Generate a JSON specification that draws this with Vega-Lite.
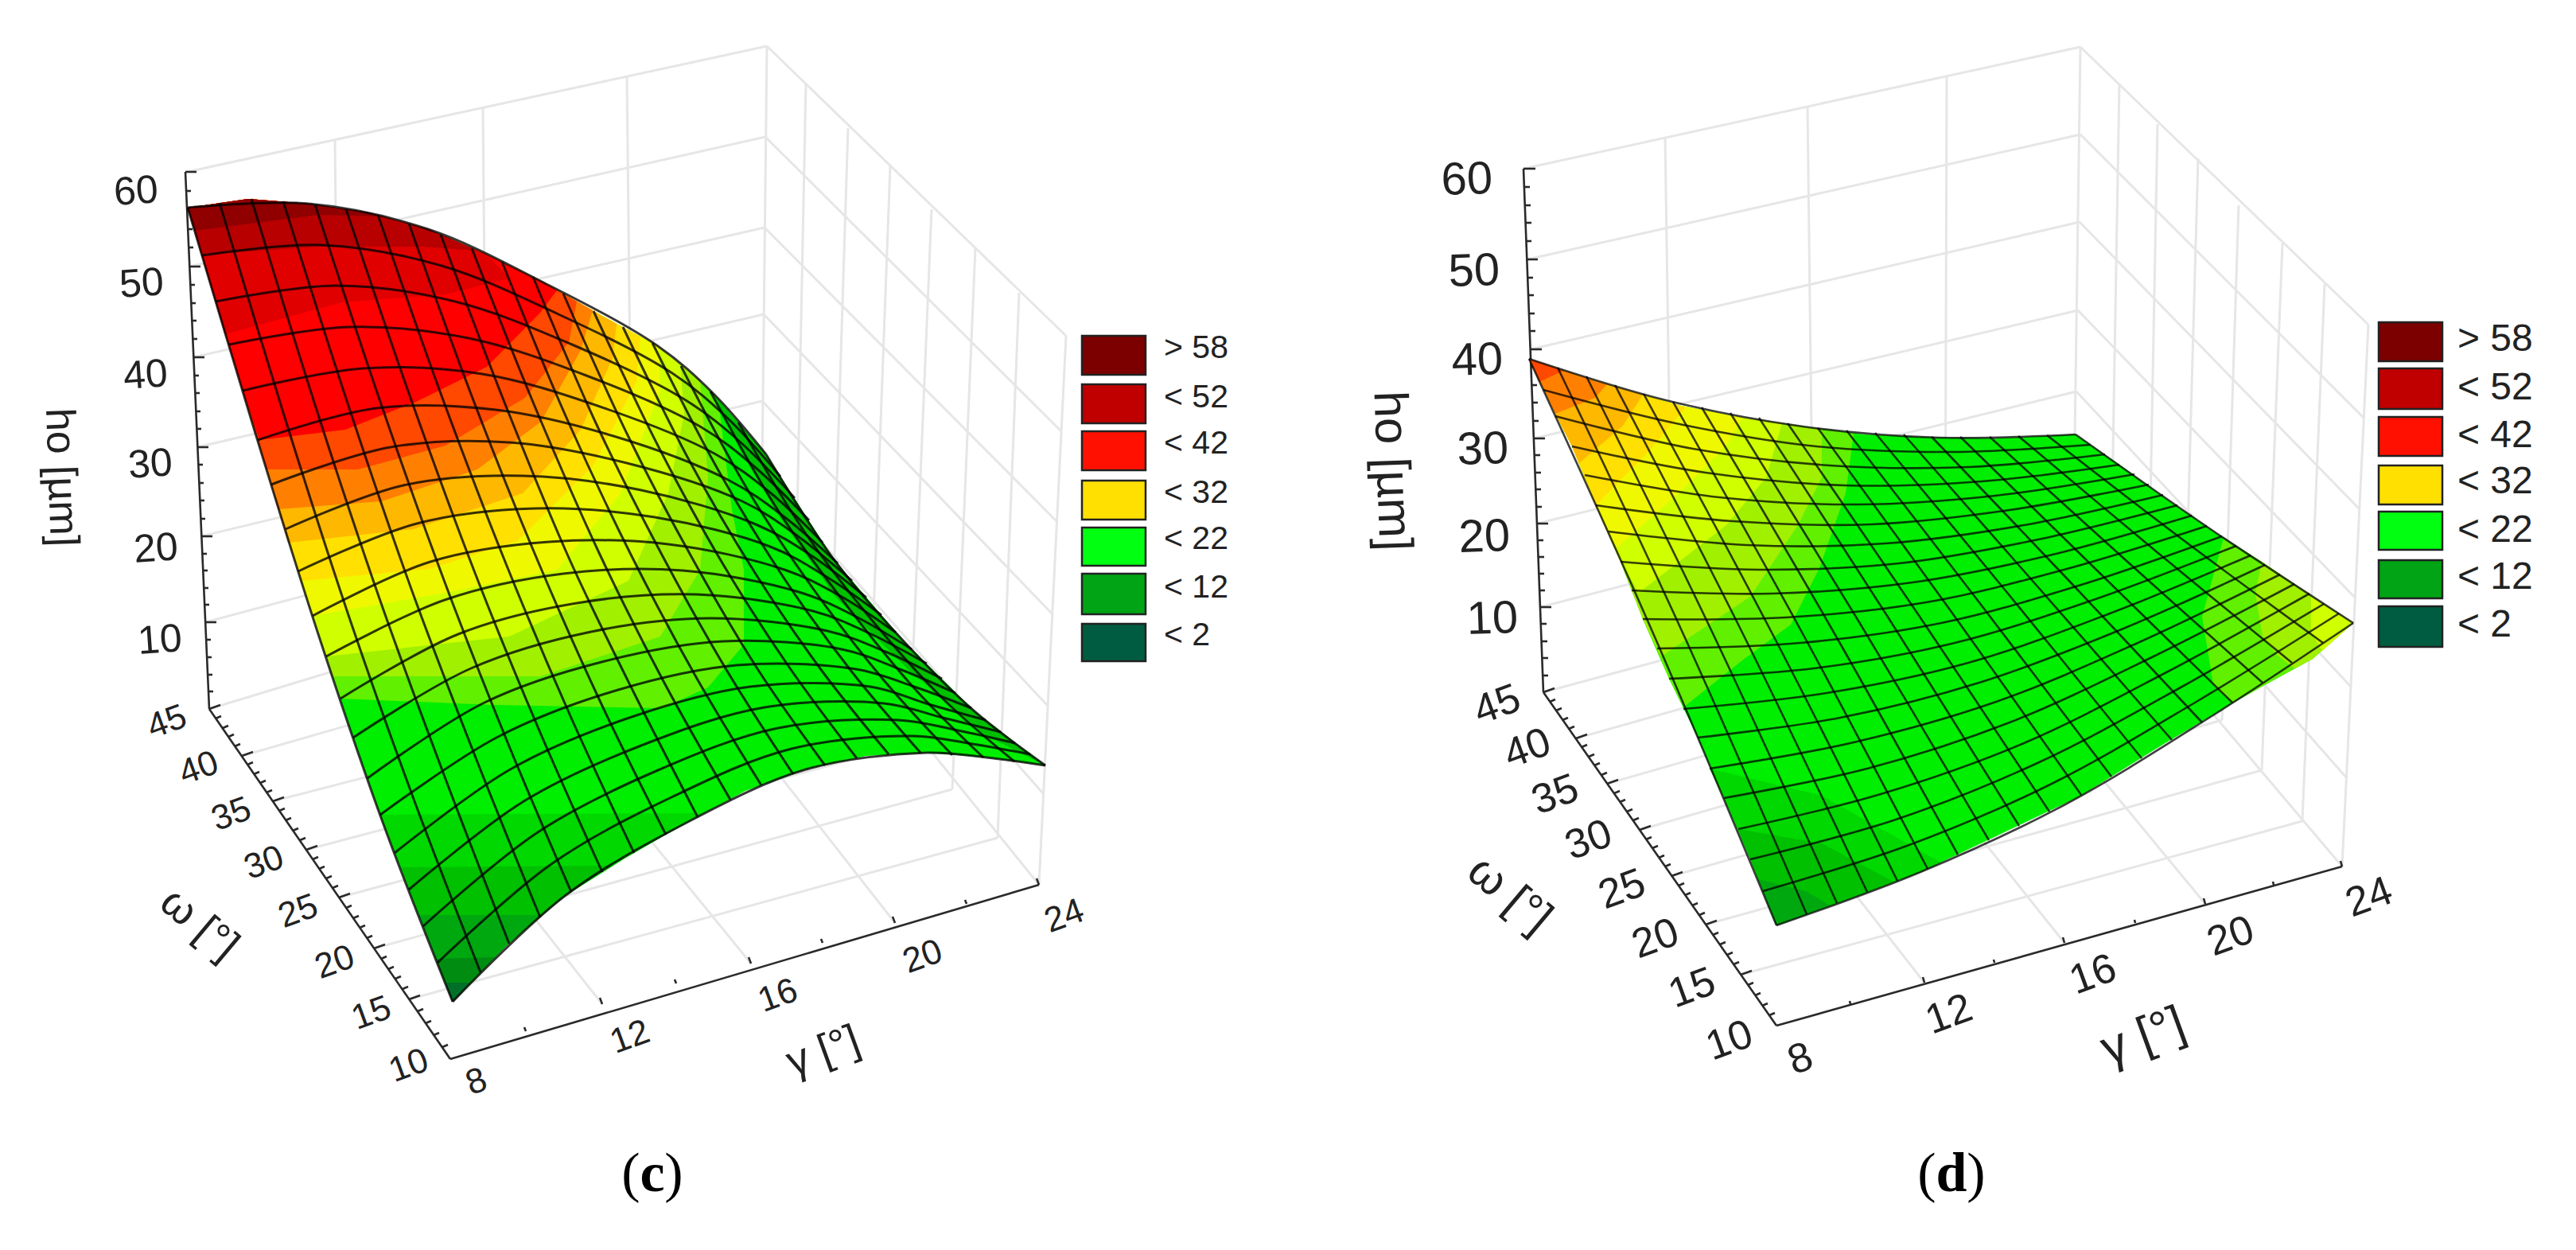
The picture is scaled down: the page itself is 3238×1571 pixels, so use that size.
{"$schema":"https://vega.github.io/schema/vega-lite/v6.json","width":3238,"height":1571,"autosize":{"type":"fit","contains":"padding"},"padding":0,"background":"white","config":{"view":{"stroke":null}},
"datasets":{
"walls":[
{"x":235,"y":216,"x2":964,"y2":58},{"x":238,"y":335,"x2":962,"y2":172},{"x":243,"y":449,"x2":961,"y2":286},{"x":248,"y":562,"x2":960,"y2":395},{"x":253,"y":674,"x2":958,"y2":504},{"x":258,"y":782,"x2":957,"y2":595},{"x":263,"y":891,"x2":957,"y2":680},
{"x":421,"y":176,"x2":428,"y2":845},{"x":607,"y":136,"x2":613,"y2":805},{"x":788,"y":96,"x2":795,"y2":738},{"x":964,"y":58,"x2":957,"y2":680},
{"x":1013,"y":105,"x2":1000,"y2":750},{"x":1066,"y":161,"x2":1045,"y2":825},{"x":1119,"y":208,"x2":1094,"y2":880},{"x":1171,"y":263,"x2":1143,"y2":935},{"x":1226,"y":312,"x2":1197,"y2":992},{"x":1281,"y":368,"x2":1254,"y2":1053},{"x":1340,"y":422,"x2":1306,"y2":1112},
{"x":964,"y":58,"x2":1340,"y2":422},{"x":962,"y":172,"x2":1334,"y2":542},{"x":961,"y":286,"x2":1329,"y2":656},{"x":960,"y":395,"x2":1323,"y2":772},{"x":958,"y":504,"x2":1317,"y2":887},{"x":957,"y":595,"x2":1311,"y2":997},{"x":957,"y":680,"x2":1306,"y2":1112},
{"x":514,"y":1256,"x2":1254,"y2":1053},{"x":470,"y":1192,"x2":1197,"y2":992},{"x":426,"y":1128,"x2":1143,"y2":935},{"x":385,"y":1068,"x2":1094,"y2":880},{"x":343,"y":1007,"x2":1045,"y2":825},{"x":304,"y":950,"x2":1000,"y2":750},
{"x":757,"y":1262,"x2":428,"y2":845},{"x":944,"y":1211,"x2":613,"y2":805},{"x":1125,"y":1160,"x2":795,"y2":738},
{"x":1915,"y":212,"x2":2615,"y2":59},{"x":1920,"y":326,"x2":2615,"y2":169},{"x":1924,"y":439,"x2":2614,"y2":279},{"x":1928,"y":551,"x2":2612,"y2":390},{"x":1932,"y":658,"x2":2610,"y2":492},{"x":1936,"y":763,"x2":2608,"y2":590},{"x":1940,"y":870,"x2":2606,"y2":690},
{"x":2093,"y":173,"x2":2103,"y2":832},{"x":2272,"y":134,"x2":2280,"y2":790},{"x":2447,"y":94,"x2":2445,"y2":740},{"x":2615,"y":59,"x2":2606,"y2":690},
{"x":2664,"y":105,"x2":2653,"y2":738},{"x":2712,"y":156,"x2":2700,"y2":790},{"x":2763,"y":199,"x2":2745,"y2":845},{"x":2814,"y":258,"x2":2793,"y2":905},{"x":2869,"y":306,"x2":2843,"y2":968},{"x":2922,"y":357,"x2":2894,"y2":1032},{"x":2977,"y":408,"x2":2944,"y2":1089},
{"x":2615,"y":59,"x2":2977,"y2":408},{"x":2615,"y":169,"x2":2971,"y2":525},{"x":2614,"y":279,"x2":2966,"y2":640},{"x":2612,"y":390,"x2":2961,"y2":752},{"x":2610,"y":492,"x2":2955,"y2":863},{"x":2608,"y":590,"x2":2950,"y2":978},{"x":2606,"y":690,"x2":2944,"y2":1089},
{"x":2188,"y":1225,"x2":2894,"y2":1032},{"x":2144,"y":1162,"x2":2843,"y2":968},{"x":2101,"y":1101,"x2":2793,"y2":905},{"x":2061,"y":1043,"x2":2745,"y2":845},{"x":2020,"y":985,"x2":2700,"y2":790},{"x":1981,"y":928,"x2":2653,"y2":738},
{"x":2419,"y":1235,"x2":2103,"y2":832},{"x":2595,"y":1185,"x2":2280,"y2":790},{"x":2772,"y":1136,"x2":2445,"y2":740}
],
"axes":[
{"x":233,"y":216,"x2":263,"y2":891},{"x":263,"y":891,"x2":566,"y2":1331},{"x":566,"y":1331,"x2":1306,"y2":1112},
{"x":233,"y":216,"x2":247,"y2":216},{"x":238,"y":335,"x2":252,"y2":335},{"x":243,"y":449,"x2":257,"y2":449},{"x":248,"y":562,"x2":262,"y2":562},{"x":253,"y":674,"x2":267,"y2":674},{"x":258,"y":782,"x2":272,"y2":782},
{"x":234,"y":240,"x2":240,"y2":240},{"x":235,"y":264,"x2":241,"y2":264},{"x":236,"y":288,"x2":242,"y2":288},{"x":237,"y":311,"x2":243,"y2":311},{"x":239,"y":358,"x2":245,"y2":358},{"x":240,"y":381,"x2":246,"y2":381},{"x":241,"y":403,"x2":247,"y2":403},{"x":242,"y":426,"x2":248,"y2":426},{"x":244,"y":472,"x2":250,"y2":472},{"x":245,"y":494,"x2":251,"y2":494},{"x":246,"y":517,"x2":252,"y2":517},{"x":247,"y":539,"x2":253,"y2":539},{"x":249,"y":584,"x2":255,"y2":584},{"x":250,"y":607,"x2":256,"y2":607},{"x":251,"y":629,"x2":257,"y2":629},{"x":252,"y":652,"x2":258,"y2":652},{"x":254,"y":696,"x2":260,"y2":696},{"x":255,"y":717,"x2":261,"y2":717},{"x":256,"y":739,"x2":262,"y2":739},{"x":257,"y":760,"x2":263,"y2":760},{"x":259,"y":804,"x2":265,"y2":804},{"x":260,"y":826,"x2":266,"y2":826},{"x":261,"y":848,"x2":267,"y2":848},{"x":262,"y":869,"x2":268,"y2":869},
{"x":263,"y":891,"x2":277,"y2":886},{"x":304,"y":950,"x2":318,"y2":945},{"x":343,"y":1007,"x2":357,"y2":1002},{"x":385,"y":1068,"x2":399,"y2":1063},{"x":426,"y":1128,"x2":440,"y2":1123},{"x":470,"y":1192,"x2":484,"y2":1187},{"x":514,"y":1256,"x2":528,"y2":1251},
{"x":271,"y":903,"x2":278,"y2":900},{"x":280,"y":915,"x2":287,"y2":912},{"x":287,"y":926,"x2":294,"y2":923},{"x":295,"y":938,"x2":302,"y2":935},{"x":311,"y":961,"x2":318,"y2":958},{"x":319,"y":973,"x2":326,"y2":970},{"x":327,"y":984,"x2":334,"y2":981},{"x":335,"y":996,"x2":342,"y2":993},{"x":351,"y":1019,"x2":358,"y2":1016},{"x":359,"y":1031,"x2":366,"y2":1028},{"x":368,"y":1044,"x2":375,"y2":1041},{"x":377,"y":1056,"x2":384,"y2":1053},{"x":393,"y":1080,"x2":400,"y2":1077},{"x":401,"y":1092,"x2":408,"y2":1089},{"x":410,"y":1104,"x2":417,"y2":1101},{"x":418,"y":1116,"x2":425,"y2":1113},{"x":435,"y":1141,"x2":442,"y2":1138},{"x":444,"y":1154,"x2":451,"y2":1151},{"x":452,"y":1166,"x2":459,"y2":1163},{"x":461,"y":1179,"x2":468,"y2":1176},{"x":479,"y":1205,"x2":486,"y2":1202},{"x":488,"y":1218,"x2":495,"y2":1215},{"x":497,"y":1230,"x2":504,"y2":1227},{"x":506,"y":1243,"x2":513,"y2":1240},{"x":525,"y":1271,"x2":532,"y2":1268},{"x":535,"y":1286,"x2":542,"y2":1283},{"x":545,"y":1301,"x2":552,"y2":1298},{"x":556,"y":1316,"x2":563,"y2":1313},
{"x":757,"y":1262,"x2":754,"y2":1254},{"x":944,"y":1211,"x2":941,"y2":1203},{"x":1125,"y":1160,"x2":1122,"y2":1152},{"x":1306,"y":1112,"x2":1303,"y2":1104},{"x":661,"y":1296,"x2":659,"y2":1291},{"x":850,"y":1236,"x2":848,"y2":1231},{"x":1034,"y":1185,"x2":1032,"y2":1180},{"x":1215,"y":1136,"x2":1213,"y2":1131},
{"x":1915,"y":212,"x2":1930,"y2":212},{"x":1919,"y":326,"x2":1933,"y2":326},{"x":1924,"y":439,"x2":1938,"y2":439},{"x":1928,"y":551,"x2":1942,"y2":551},{"x":1932,"y":658,"x2":1946,"y2":658},{"x":1936,"y":763,"x2":1950,"y2":763},
{"x":1915,"y":212,"x2":1940,"y2":870},{"x":1940,"y":870,"x2":2233,"y2":1289},{"x":2233,"y":1289,"x2":2944,"y2":1089},
{"x":1916,"y":235,"x2":1923,"y2":235},{"x":1917,"y":258,"x2":1924,"y2":258},{"x":1918,"y":280,"x2":1925,"y2":280},{"x":1918,"y":303,"x2":1925,"y2":303},{"x":1920,"y":349,"x2":1927,"y2":349},{"x":1921,"y":371,"x2":1928,"y2":371},{"x":1922,"y":394,"x2":1929,"y2":394},{"x":1923,"y":416,"x2":1930,"y2":416},{"x":1925,"y":461,"x2":1932,"y2":461},{"x":1925,"y":484,"x2":1932,"y2":484},{"x":1926,"y":506,"x2":1933,"y2":506},{"x":1927,"y":529,"x2":1934,"y2":529},{"x":1929,"y":572,"x2":1936,"y2":572},{"x":1930,"y":594,"x2":1937,"y2":594},{"x":1930,"y":615,"x2":1937,"y2":615},{"x":1931,"y":637,"x2":1938,"y2":637},{"x":1933,"y":679,"x2":1940,"y2":679},{"x":1934,"y":700,"x2":1941,"y2":700},{"x":1934,"y":721,"x2":1941,"y2":721},{"x":1935,"y":742,"x2":1942,"y2":742},{"x":1937,"y":784,"x2":1944,"y2":784},{"x":1938,"y":806,"x2":1945,"y2":806},{"x":1939,"y":827,"x2":1946,"y2":827},{"x":1939,"y":849,"x2":1946,"y2":849},
{"x":1940,"y":870,"x2":1954,"y2":865},{"x":1981,"y":928,"x2":1995,"y2":923},{"x":2020,"y":985,"x2":2034,"y2":980},{"x":2061,"y":1043,"x2":2075,"y2":1038},{"x":2101,"y":1101,"x2":2115,"y2":1096},{"x":2144,"y":1162,"x2":2158,"y2":1157},{"x":2188,"y":1225,"x2":2202,"y2":1220},
{"x":1948,"y":882,"x2":1955,"y2":879},{"x":1956,"y":893,"x2":1963,"y2":890},{"x":1964,"y":905,"x2":1971,"y2":902},{"x":1972,"y":916,"x2":1979,"y2":913},{"x":1988,"y":939,"x2":1995,"y2":936},{"x":1997,"y":951,"x2":2004,"y2":948},{"x":2004,"y":962,"x2":2011,"y2":959},{"x":2013,"y":974,"x2":2020,"y2":971},{"x":2029,"y":997,"x2":2036,"y2":994},{"x":2036,"y":1008,"x2":2043,"y2":1005},{"x":2045,"y":1020,"x2":2052,"y2":1017},{"x":2053,"y":1031,"x2":2060,"y2":1028},{"x":2069,"y":1055,"x2":2076,"y2":1052},{"x":2077,"y":1066,"x2":2084,"y2":1063},{"x":2085,"y":1078,"x2":2092,"y2":1075},{"x":2093,"y":1089,"x2":2100,"y2":1086},{"x":2110,"y":1113,"x2":2117,"y2":1110},{"x":2118,"y":1125,"x2":2125,"y2":1122},{"x":2127,"y":1138,"x2":2134,"y2":1135},{"x":2136,"y":1150,"x2":2143,"y2":1147},{"x":2153,"y":1175,"x2":2160,"y2":1172},{"x":2162,"y":1187,"x2":2169,"y2":1184},{"x":2171,"y":1200,"x2":2178,"y2":1197},{"x":2179,"y":1212,"x2":2186,"y2":1209},{"x":2197,"y":1238,"x2":2204,"y2":1235},{"x":2206,"y":1251,"x2":2213,"y2":1248},{"x":2215,"y":1264,"x2":2222,"y2":1261},{"x":2224,"y":1276,"x2":2231,"y2":1273},
{"x":2419,"y":1235,"x2":2417,"y2":1228},{"x":2595,"y":1185,"x2":2593,"y2":1178},{"x":2772,"y":1136,"x2":2770,"y2":1129},{"x":2944,"y":1089,"x2":2942,"y2":1082},{"x":2326,"y":1262,"x2":2325,"y2":1258},{"x":2507,"y":1210,"x2":2506,"y2":1206},{"x":2684,"y":1160,"x2":2683,"y2":1156},{"x":2858,"y":1112,"x2":2857,"y2":1108}
],
"bands":[
{"b":"c00","k":"z20","i":0,"x":236,"y":261},{"b":"c00","k":"z20","i":1,"x":312,"y":250},{"b":"c00","k":"z20","i":2,"x":388,"y":256},{"b":"c00","k":"z20","i":3,"x":463,"y":267},{"b":"c00","k":"z20","i":4,"x":538,"y":288},{"b":"c00","k":"z20","i":5,"x":612,"y":320},{"b":"c00","k":"z20","i":6,"x":685,"y":356},{"b":"c00","k":"z20","i":7,"x":757,"y":397},{"b":"c00","k":"z20","i":8,"x":827,"y":435},{"b":"c00","k":"z20","i":9,"x":897,"y":495},{"b":"c00","k":"z20","i":10,"x":963,"y":571},{"b":"c00","k":"z20","i":11,"x":1048,"y":703},{"b":"c00","k":"z20","i":12,"x":1136,"y":806},{"b":"c00","k":"z20","i":13,"x":1225,"y":894},{"b":"c00","k":"z20","i":14,"x":1314,"y":962},{"b":"c00","k":"z20","i":15,"x":1240,"y":952},{"b":"c00","k":"z20","i":16,"x":1165,"y":946},{"b":"c00","k":"z20","i":17,"x":1089,"y":950},{"b":"c00","k":"z20","i":18,"x":1013,"y":967},{"b":"c00","k":"z20","i":19,"x":937,"y":994},{"b":"c00","k":"z20","i":20,"x":861,"y":1035},{"b":"c00","k":"z20","i":21,"x":785,"y":1079},{"b":"c00","k":"z20","i":22,"x":710,"y":1126},{"b":"c00","k":"z20","i":23,"x":636,"y":1189},{"b":"c00","k":"z20","i":24,"x":569,"y":1259},{"b":"c00","k":"z20","i":25,"x":550,"y":1210},{"b":"c00","k":"z20","i":26,"x":514,"y":1118},{"b":"c00","k":"z20","i":27,"x":478,"y":1024},{"b":"c00","k":"z20","i":28,"x":444,"y":927},{"b":"c00","k":"z20","i":29,"x":410,"y":825},{"b":"c00","k":"z20","i":30,"x":375,"y":718},{"b":"c00","k":"z20","i":31,"x":341,"y":609},{"b":"c00","k":"z20","i":32,"x":305,"y":491},{"b":"c00","k":"z20","i":33,"x":271,"y":379},
{"b":"c01","k":"z12","i":0,"x":478,"y":1024},{"b":"c01","k":"z12","i":1,"x":885,"y":1022},{"b":"c01","k":"z12","i":2,"x":861,"y":1035},{"b":"c01","k":"z12","i":3,"x":785,"y":1079},{"b":"c01","k":"z12","i":4,"x":710,"y":1126},{"b":"c01","k":"z12","i":5,"x":636,"y":1189},{"b":"c01","k":"z12","i":6,"x":569,"y":1259},{"b":"c01","k":"z12","i":7,"x":550,"y":1210},{"b":"c01","k":"z12","i":8,"x":514,"y":1118},
{"b":"c02","k":"z8","i":0,"x":505,"y":1090},{"b":"c02","k":"z8","i":1,"x":770,"y":1088},{"b":"c02","k":"z8","i":2,"x":710,"y":1126},{"b":"c02","k":"z8","i":3,"x":636,"y":1189},{"b":"c02","k":"z8","i":4,"x":569,"y":1259},{"b":"c02","k":"z8","i":5,"x":550,"y":1210},{"b":"c02","k":"z8","i":6,"x":514,"y":1118},
{"b":"c03","k":"z6","i":0,"x":527,"y":1150},{"b":"c03","k":"z6","i":1,"x":680,"y":1150},{"b":"c03","k":"z6","i":2,"x":636,"y":1189},{"b":"c03","k":"z6","i":3,"x":569,"y":1259},{"b":"c03","k":"z6","i":4,"x":550,"y":1210},
{"b":"c04","k":"z4","i":0,"x":548,"y":1205},{"b":"c04","k":"z4","i":1,"x":622,"y":1203},{"b":"c04","k":"z4","i":2,"x":569,"y":1259},
{"b":"c05","k":"z2","i":0,"x":560,"y":1235},{"b":"c05","k":"z2","i":1,"x":592,"y":1235},{"b":"c05","k":"z2","i":2,"x":569,"y":1259},
{"b":"c06","k":"z8","i":0,"x":900,"y":500},{"b":"c06","k":"z8","i":1,"x":963,"y":571},{"b":"c06","k":"z8","i":2,"x":1048,"y":703},{"b":"c06","k":"z8","i":3,"x":1136,"y":806},{"b":"c06","k":"z8","i":4,"x":1225,"y":894},{"b":"c06","k":"z8","i":5,"x":1314,"y":962},{"b":"c06","k":"z8","i":6,"x":1240,"y":925},{"b":"c06","k":"z8","i":7,"x":1140,"y":840},{"b":"c06","k":"z8","i":8,"x":1050,"y":750},{"b":"c06","k":"z8","i":9,"x":980,"y":650},{"b":"c06","k":"z8","i":10,"x":930,"y":565},
{"b":"c10","k":"z23","i":0,"x":428,"y":878},{"b":"c10","k":"z23","i":1,"x":620,"y":886},{"b":"c10","k":"z23","i":2,"x":832,"y":890},{"b":"c10","k":"z23","i":3,"x":890,"y":864},{"b":"c10","k":"z23","i":4,"x":935,"y":810},{"b":"c10","k":"z23","i":5,"x":935,"y":716},{"b":"c10","k":"z23","i":6,"x":920,"y":640},{"b":"c10","k":"z23","i":7,"x":905,"y":520},{"b":"c10","k":"z23","i":8,"x":897,"y":495},{"b":"c10","k":"z23","i":9,"x":827,"y":435},{"b":"c10","k":"z23","i":10,"x":757,"y":397},{"b":"c10","k":"z23","i":11,"x":685,"y":356},{"b":"c10","k":"z23","i":12,"x":612,"y":320},{"b":"c10","k":"z23","i":13,"x":538,"y":288},{"b":"c10","k":"z23","i":14,"x":463,"y":267},{"b":"c10","k":"z23","i":15,"x":388,"y":256},{"b":"c10","k":"z23","i":16,"x":312,"y":250},{"b":"c10","k":"z23","i":17,"x":236,"y":261},{"b":"c10","k":"z23","i":18,"x":271,"y":379},{"b":"c10","k":"z23","i":19,"x":305,"y":491},{"b":"c10","k":"z23","i":20,"x":341,"y":609},{"b":"c10","k":"z23","i":21,"x":375,"y":718},{"b":"c10","k":"z23","i":22,"x":410,"y":825},
{"b":"c11","k":"z25","i":0,"x":418,"y":850},{"b":"c11","k":"z25","i":1,"x":680,"y":850},{"b":"c11","k":"z25","i":2,"x":830,"y":800},{"b":"c11","k":"z25","i":3,"x":880,"y":716},{"b":"c11","k":"z25","i":4,"x":890,"y":600},{"b":"c11","k":"z25","i":5,"x":880,"y":478},{"b":"c11","k":"z25","i":6,"x":827,"y":435},{"b":"c11","k":"z25","i":7,"x":757,"y":397},{"b":"c11","k":"z25","i":8,"x":685,"y":356},{"b":"c11","k":"z25","i":9,"x":612,"y":320},{"b":"c11","k":"z25","i":10,"x":538,"y":288},{"b":"c11","k":"z25","i":11,"x":463,"y":267},{"b":"c11","k":"z25","i":12,"x":388,"y":256},{"b":"c11","k":"z25","i":13,"x":312,"y":250},{"b":"c11","k":"z25","i":14,"x":236,"y":261},{"b":"c11","k":"z25","i":15,"x":271,"y":379},{"b":"c11","k":"z25","i":16,"x":305,"y":491},{"b":"c11","k":"z25","i":17,"x":341,"y":609},{"b":"c11","k":"z25","i":18,"x":375,"y":718},{"b":"c11","k":"z25","i":19,"x":410,"y":825},
{"b":"c12","k":"z27","i":0,"x":410,"y":825},{"b":"c12","k":"z27","i":1,"x":640,"y":800},{"b":"c12","k":"z27","i":2,"x":790,"y":730},{"b":"c12","k":"z27","i":3,"x":840,"y":620},{"b":"c12","k":"z27","i":4,"x":860,"y":520},{"b":"c12","k":"z27","i":5,"x":855,"y":459},{"b":"c12","k":"z27","i":6,"x":827,"y":435},{"b":"c12","k":"z27","i":7,"x":757,"y":397},{"b":"c12","k":"z27","i":8,"x":685,"y":356},{"b":"c12","k":"z27","i":9,"x":612,"y":320},{"b":"c12","k":"z27","i":10,"x":538,"y":288},{"b":"c12","k":"z27","i":11,"x":463,"y":267},{"b":"c12","k":"z27","i":12,"x":388,"y":256},{"b":"c12","k":"z27","i":13,"x":312,"y":250},{"b":"c12","k":"z27","i":14,"x":236,"y":261},{"b":"c12","k":"z27","i":15,"x":271,"y":379},{"b":"c12","k":"z27","i":16,"x":305,"y":491},{"b":"c12","k":"z27","i":17,"x":341,"y":609},{"b":"c12","k":"z27","i":18,"x":375,"y":718},
{"b":"c13","k":"z29","i":0,"x":393,"y":774},{"b":"c13","k":"z29","i":1,"x":560,"y":745},{"b":"c13","k":"z29","i":2,"x":700,"y":716},{"b":"c13","k":"z29","i":3,"x":780,"y":620},{"b":"c13","k":"z29","i":4,"x":830,"y":490},{"b":"c13","k":"z29","i":5,"x":827,"y":435},{"b":"c13","k":"z29","i":6,"x":757,"y":397},{"b":"c13","k":"z29","i":7,"x":685,"y":356},{"b":"c13","k":"z29","i":8,"x":612,"y":320},{"b":"c13","k":"z29","i":9,"x":538,"y":288},{"b":"c13","k":"z29","i":10,"x":463,"y":267},{"b":"c13","k":"z29","i":11,"x":388,"y":256},{"b":"c13","k":"z29","i":12,"x":312,"y":250},{"b":"c13","k":"z29","i":13,"x":236,"y":261},{"b":"c13","k":"z29","i":14,"x":271,"y":379},{"b":"c13","k":"z29","i":15,"x":305,"y":491},{"b":"c13","k":"z29","i":16,"x":341,"y":609},{"b":"c13","k":"z29","i":17,"x":375,"y":718},
{"b":"c14","k":"z32","i":0,"x":379,"y":730},{"b":"c14","k":"z32","i":1,"x":540,"y":715},{"b":"c14","k":"z32","i":2,"x":650,"y":680},{"b":"c14","k":"z32","i":3,"x":746,"y":585},{"b":"c14","k":"z32","i":4,"x":800,"y":480},{"b":"c14","k":"z32","i":5,"x":805,"y":423},{"b":"c14","k":"z32","i":6,"x":757,"y":397},{"b":"c14","k":"z32","i":7,"x":685,"y":356},{"b":"c14","k":"z32","i":8,"x":612,"y":320},{"b":"c14","k":"z32","i":9,"x":538,"y":288},{"b":"c14","k":"z32","i":10,"x":463,"y":267},{"b":"c14","k":"z32","i":11,"x":388,"y":256},{"b":"c14","k":"z32","i":12,"x":312,"y":250},{"b":"c14","k":"z32","i":13,"x":236,"y":261},{"b":"c14","k":"z32","i":14,"x":271,"y":379},{"b":"c14","k":"z32","i":15,"x":305,"y":491},{"b":"c14","k":"z32","i":16,"x":341,"y":609},{"b":"c14","k":"z32","i":17,"x":375,"y":718},
{"b":"c15","k":"z35","i":0,"x":362,"y":682},{"b":"c15","k":"z35","i":1,"x":520,"y":665},{"b":"c15","k":"z35","i":2,"x":657,"y":620},{"b":"c15","k":"z35","i":3,"x":730,"y":540},{"b":"c15","k":"z35","i":4,"x":770,"y":450},{"b":"c15","k":"z35","i":5,"x":775,"y":407},{"b":"c15","k":"z35","i":6,"x":757,"y":397},{"b":"c15","k":"z35","i":7,"x":685,"y":356},{"b":"c15","k":"z35","i":8,"x":612,"y":320},{"b":"c15","k":"z35","i":9,"x":538,"y":288},{"b":"c15","k":"z35","i":10,"x":463,"y":267},{"b":"c15","k":"z35","i":11,"x":388,"y":256},{"b":"c15","k":"z35","i":12,"x":312,"y":250},{"b":"c15","k":"z35","i":13,"x":236,"y":261},{"b":"c15","k":"z35","i":14,"x":271,"y":379},{"b":"c15","k":"z35","i":15,"x":305,"y":491},{"b":"c15","k":"z35","i":16,"x":341,"y":609},
{"b":"c16","k":"z38","i":0,"x":350,"y":640},{"b":"c16","k":"z38","i":1,"x":480,"y":630},{"b":"c16","k":"z38","i":2,"x":600,"y":590},{"b":"c16","k":"z38","i":3,"x":680,"y":530},{"b":"c16","k":"z38","i":4,"x":730,"y":440},{"b":"c16","k":"z38","i":5,"x":745,"y":390},{"b":"c16","k":"z38","i":6,"x":685,"y":356},{"b":"c16","k":"z38","i":7,"x":612,"y":320},{"b":"c16","k":"z38","i":8,"x":538,"y":288},{"b":"c16","k":"z38","i":9,"x":463,"y":267},{"b":"c16","k":"z38","i":10,"x":388,"y":256},{"b":"c16","k":"z38","i":11,"x":312,"y":250},{"b":"c16","k":"z38","i":12,"x":236,"y":261},{"b":"c16","k":"z38","i":13,"x":271,"y":379},{"b":"c16","k":"z38","i":14,"x":305,"y":491},{"b":"c16","k":"z38","i":15,"x":341,"y":609},
{"b":"c17","k":"z41","i":0,"x":335,"y":590},{"b":"c17","k":"z41","i":1,"x":450,"y":590},{"b":"c17","k":"z41","i":2,"x":560,"y":560},{"b":"c17","k":"z41","i":3,"x":660,"y":500},{"b":"c17","k":"z41","i":4,"x":715,"y":430},{"b":"c17","k":"z41","i":5,"x":725,"y":379},{"b":"c17","k":"z41","i":6,"x":685,"y":356},{"b":"c17","k":"z41","i":7,"x":612,"y":320},{"b":"c17","k":"z41","i":8,"x":538,"y":288},{"b":"c17","k":"z41","i":9,"x":463,"y":267},{"b":"c17","k":"z41","i":10,"x":388,"y":256},{"b":"c17","k":"z41","i":11,"x":312,"y":250},{"b":"c17","k":"z41","i":12,"x":236,"y":261},{"b":"c17","k":"z41","i":13,"x":271,"y":379},{"b":"c17","k":"z41","i":14,"x":305,"y":491},
{"b":"c18","k":"z44","i":0,"x":326,"y":553},{"b":"c18","k":"z44","i":1,"x":434,"y":540},{"b":"c18","k":"z44","i":2,"x":523,"y":505},{"b":"c18","k":"z44","i":3,"x":612,"y":461},{"b":"c18","k":"z44","i":4,"x":679,"y":393},{"b":"c18","k":"z44","i":5,"x":700,"y":365},{"b":"c18","k":"z44","i":6,"x":685,"y":356},{"b":"c18","k":"z44","i":7,"x":612,"y":320},{"b":"c18","k":"z44","i":8,"x":538,"y":288},{"b":"c18","k":"z44","i":9,"x":463,"y":267},{"b":"c18","k":"z44","i":10,"x":388,"y":256},{"b":"c18","k":"z44","i":11,"x":312,"y":250},{"b":"c18","k":"z44","i":12,"x":236,"y":261},{"b":"c18","k":"z44","i":13,"x":271,"y":379},{"b":"c18","k":"z44","i":14,"x":305,"y":491},
{"b":"c19","k":"z48","i":0,"x":283,"y":420},{"b":"c19","k":"z48","i":1,"x":430,"y":380},{"b":"c19","k":"z48","i":2,"x":560,"y":370},{"b":"c19","k":"z48","i":3,"x":640,"y":350},{"b":"c19","k":"z48","i":4,"x":612,"y":320},{"b":"c19","k":"z48","i":5,"x":538,"y":288},{"b":"c19","k":"z48","i":6,"x":463,"y":267},{"b":"c19","k":"z48","i":7,"x":388,"y":256},{"b":"c19","k":"z48","i":8,"x":312,"y":250},{"b":"c19","k":"z48","i":9,"x":236,"y":261},{"b":"c19","k":"z48","i":10,"x":271,"y":379},
{"b":"c20","k":"z52","i":0,"x":256,"y":320},{"b":"c20","k":"z52","i":1,"x":400,"y":310},{"b":"c20","k":"z52","i":2,"x":530,"y":310},{"b":"c20","k":"z52","i":3,"x":600,"y":315},{"b":"c20","k":"z52","i":4,"x":538,"y":288},{"b":"c20","k":"z52","i":5,"x":463,"y":267},{"b":"c20","k":"z52","i":6,"x":388,"y":256},{"b":"c20","k":"z52","i":7,"x":312,"y":250},{"b":"c20","k":"z52","i":8,"x":236,"y":261},
{"b":"c21","k":"z58","i":0,"x":245,"y":290},{"b":"c21","k":"z58","i":1,"x":400,"y":270},{"b":"c21","k":"z58","i":2,"x":480,"y":272},{"b":"c21","k":"z58","i":3,"x":463,"y":267},{"b":"c21","k":"z58","i":4,"x":388,"y":256},{"b":"c21","k":"z58","i":5,"x":312,"y":250},{"b":"c21","k":"z58","i":6,"x":236,"y":261},
{"b":"d00","k":"z20","i":0,"x":1922,"y":451},{"b":"d00","k":"z20","i":1,"x":2006,"y":479},{"b":"d00","k":"z20","i":2,"x":2113,"y":510},{"b":"d00","k":"z20","i":3,"x":2190,"y":525},{"b":"d00","k":"z20","i":4,"x":2261,"y":535},{"b":"d00","k":"z20","i":5,"x":2343,"y":546},{"b":"d00","k":"z20","i":6,"x":2437,"y":550},{"b":"d00","k":"z20","i":7,"x":2507,"y":551},{"b":"d00","k":"z20","i":8,"x":2609,"y":546},{"b":"d00","k":"z20","i":9,"x":2667,"y":586},{"b":"d00","k":"z20","i":10,"x":2720,"y":625},{"b":"d00","k":"z20","i":11,"x":2783,"y":668},{"b":"d00","k":"z20","i":12,"x":2843,"y":706},{"b":"d00","k":"z20","i":13,"x":2907,"y":750},{"b":"d00","k":"z20","i":14,"x":2958,"y":783},{"b":"d00","k":"z20","i":15,"x":2907,"y":828},{"b":"d00","k":"z20","i":16,"x":2843,"y":863},{"b":"d00","k":"z20","i":17,"x":2806,"y":884},{"b":"d00","k":"z20","i":18,"x":2720,"y":935},{"b":"d00","k":"z20","i":19,"x":2614,"y":1001},{"b":"d00","k":"z20","i":20,"x":2507,"y":1052},{"b":"d00","k":"z20","i":21,"x":2414,"y":1096},{"b":"d00","k":"z20","i":22,"x":2343,"y":1123},{"b":"d00","k":"z20","i":23,"x":2233,"y":1163},{"b":"d00","k":"z20","i":24,"x":2200,"y":1080},{"b":"d00","k":"z20","i":25,"x":2167,"y":1003},{"b":"d00","k":"z20","i":26,"x":2134,"y":927},{"b":"d00","k":"z20","i":27,"x":2098,"y":853},{"b":"d00","k":"z20","i":28,"x":2065,"y":778},{"b":"d00","k":"z20","i":29,"x":2037,"y":706},{"b":"d00","k":"z20","i":30,"x":2006,"y":635},{"b":"d00","k":"z20","i":31,"x":1976,"y":561},{"b":"d00","k":"z20","i":32,"x":1955,"y":520},
{"b":"d01","k":"z12","i":0,"x":2149,"y":966},{"b":"d01","k":"z12","i":1,"x":2290,"y":1000},{"b":"d01","k":"z12","i":2,"x":2440,"y":1084},{"b":"d01","k":"z12","i":3,"x":2414,"y":1096},{"b":"d01","k":"z12","i":4,"x":2343,"y":1123},{"b":"d01","k":"z12","i":5,"x":2233,"y":1163},{"b":"d01","k":"z12","i":6,"x":2200,"y":1080},{"b":"d01","k":"z12","i":7,"x":2167,"y":1003},
{"b":"d02","k":"z8","i":0,"x":2185,"y":1042},{"b":"d02","k":"z8","i":1,"x":2290,"y":1060},{"b":"d02","k":"z8","i":2,"x":2380,"y":1108},{"b":"d02","k":"z8","i":3,"x":2343,"y":1123},{"b":"d02","k":"z8","i":4,"x":2233,"y":1163},{"b":"d02","k":"z8","i":5,"x":2200,"y":1080},
{"b":"d03","k":"z6","i":0,"x":2210,"y":1105},{"b":"d03","k":"z6","i":1,"x":2270,"y":1120},{"b":"d03","k":"z6","i":2,"x":2300,"y":1138},{"b":"d03","k":"z6","i":3,"x":2233,"y":1163},
{"b":"d05","k":"z23","i":0,"x":2795,"y":676},{"b":"d05","k":"z23","i":1,"x":2768,"y":775},{"b":"d05","k":"z23","i":2,"x":2782,"y":860},{"b":"d05","k":"z23","i":3,"x":2806,"y":884},{"b":"d05","k":"z23","i":4,"x":2843,"y":863},{"b":"d05","k":"z23","i":5,"x":2907,"y":828},{"b":"d05","k":"z23","i":6,"x":2958,"y":783},{"b":"d05","k":"z23","i":7,"x":2907,"y":750},{"b":"d05","k":"z23","i":8,"x":2843,"y":706},
{"b":"d06","k":"z25","i":0,"x":2843,"y":706},{"b":"d06","k":"z25","i":1,"x":2835,"y":746},{"b":"d06","k":"z25","i":2,"x":2844,"y":800},{"b":"d06","k":"z25","i":3,"x":2862,"y":823},{"b":"d06","k":"z25","i":4,"x":2884,"y":840},{"b":"d06","k":"z25","i":5,"x":2907,"y":828},{"b":"d06","k":"z25","i":6,"x":2958,"y":783},{"b":"d06","k":"z25","i":7,"x":2907,"y":750},
{"b":"d07","k":"z27","i":0,"x":2905,"y":749},{"b":"d07","k":"z27","i":1,"x":2905,"y":795},{"b":"d07","k":"z27","i":2,"x":2919,"y":818},{"b":"d07","k":"z27","i":3,"x":2958,"y":783},
{"b":"d10","k":"z23","i":0,"x":2116,"y":889},{"b":"d10","k":"z23","i":1,"x":2190,"y":830},{"b":"d10","k":"z23","i":2,"x":2251,"y":785},{"b":"d10","k":"z23","i":3,"x":2287,"y":714},{"b":"d10","k":"z23","i":4,"x":2320,"y":620},{"b":"d10","k":"z23","i":5,"x":2330,"y":545},{"b":"d10","k":"z23","i":6,"x":2261,"y":535},{"b":"d10","k":"z23","i":7,"x":2190,"y":525},{"b":"d10","k":"z23","i":8,"x":2113,"y":510},{"b":"d10","k":"z23","i":9,"x":2006,"y":479},{"b":"d10","k":"z23","i":10,"x":1922,"y":451},{"b":"d10","k":"z23","i":11,"x":1955,"y":520},{"b":"d10","k":"z23","i":12,"x":1976,"y":561},{"b":"d10","k":"z23","i":13,"x":2006,"y":635},{"b":"d10","k":"z23","i":14,"x":2037,"y":706},{"b":"d10","k":"z23","i":15,"x":2065,"y":778},{"b":"d10","k":"z23","i":16,"x":2098,"y":853},
{"b":"d11","k":"z25","i":0,"x":2088,"y":825},{"b":"d11","k":"z25","i":1,"x":2200,"y":750},{"b":"d11","k":"z25","i":2,"x":2260,"y":660},{"b":"d11","k":"z25","i":3,"x":2290,"y":600},{"b":"d11","k":"z25","i":4,"x":2290,"y":539},{"b":"d11","k":"z25","i":5,"x":2261,"y":535},{"b":"d11","k":"z25","i":6,"x":2190,"y":525},{"b":"d11","k":"z25","i":7,"x":2113,"y":510},{"b":"d11","k":"z25","i":8,"x":2006,"y":479},{"b":"d11","k":"z25","i":9,"x":1922,"y":451},{"b":"d11","k":"z25","i":10,"x":1955,"y":520},{"b":"d11","k":"z25","i":11,"x":1976,"y":561},{"b":"d11","k":"z25","i":12,"x":2006,"y":635},{"b":"d11","k":"z25","i":13,"x":2037,"y":706},{"b":"d11","k":"z25","i":14,"x":2065,"y":778},
{"b":"d12","k":"z27","i":0,"x":2060,"y":745},{"b":"d12","k":"z27","i":1,"x":2170,"y":660},{"b":"d12","k":"z27","i":2,"x":2220,"y":600},{"b":"d12","k":"z27","i":3,"x":2240,"y":532},{"b":"d12","k":"z27","i":4,"x":2190,"y":525},{"b":"d12","k":"z27","i":5,"x":2113,"y":510},{"b":"d12","k":"z27","i":6,"x":2006,"y":479},{"b":"d12","k":"z27","i":7,"x":1922,"y":451},{"b":"d12","k":"z27","i":8,"x":1955,"y":520},{"b":"d12","k":"z27","i":9,"x":1976,"y":561},{"b":"d12","k":"z27","i":10,"x":2006,"y":635},{"b":"d12","k":"z27","i":11,"x":2037,"y":706},
{"b":"d13","k":"z29","i":0,"x":2030,"y":690},{"b":"d13","k":"z29","i":1,"x":2110,"y":620},{"b":"d13","k":"z29","i":2,"x":2170,"y":560},{"b":"d13","k":"z29","i":3,"x":2190,"y":525},{"b":"d13","k":"z29","i":4,"x":2113,"y":510},{"b":"d13","k":"z29","i":5,"x":2006,"y":479},{"b":"d13","k":"z29","i":6,"x":1922,"y":451},{"b":"d13","k":"z29","i":7,"x":1955,"y":520},{"b":"d13","k":"z29","i":8,"x":1976,"y":561},{"b":"d13","k":"z29","i":9,"x":2006,"y":635},
{"b":"d14","k":"z32","i":0,"x":2006,"y":635},{"b":"d14","k":"z32","i":1,"x":2070,"y":570},{"b":"d14","k":"z32","i":2,"x":2119,"y":512},{"b":"d14","k":"z32","i":3,"x":2006,"y":479},{"b":"d14","k":"z32","i":4,"x":1922,"y":451},{"b":"d14","k":"z32","i":5,"x":1955,"y":520},{"b":"d14","k":"z32","i":6,"x":1976,"y":561},
{"b":"d15","k":"z35","i":0,"x":1985,"y":582},{"b":"d15","k":"z35","i":1,"x":2040,"y":535},{"b":"d15","k":"z35","i":2,"x":2065,"y":496},{"b":"d15","k":"z35","i":3,"x":2006,"y":479},{"b":"d15","k":"z35","i":4,"x":1922,"y":451},{"b":"d15","k":"z35","i":5,"x":1955,"y":520},{"b":"d15","k":"z35","i":6,"x":1976,"y":561},
{"b":"d16","k":"z38","i":0,"x":1955,"y":520},{"b":"d16","k":"z38","i":1,"x":2005,"y":500},{"b":"d16","k":"z38","i":2,"x":2020,"y":483},{"b":"d16","k":"z38","i":3,"x":2006,"y":479},{"b":"d16","k":"z38","i":4,"x":1922,"y":451},
{"b":"d17","k":"z41","i":0,"x":1935,"y":480},{"b":"d17","k":"z41","i":1,"x":1965,"y":466},{"b":"d17","k":"z41","i":2,"x":1922,"y":451}
],
"gammaC":[
{"l":"g0","v":0,"x":236,"y":261},{"l":"g0","v":1,"x":319,"y":538},{"l":"g0","v":2,"x":401,"y":800},{"l":"g0","v":3,"x":482,"y":1036},{"l":"g0","v":4,"x":569,"y":1259},
{"l":"g1","v":0,"x":276,"y":255},{"l":"g1","v":1,"x":358,"y":525},{"l":"g1","v":2,"x":440,"y":779},{"l":"g1","v":3,"x":521,"y":1007},{"l":"g1","v":4,"x":604,"y":1222},
{"l":"g2","v":0,"x":316,"y":250},{"l":"g2","v":1,"x":397,"y":512},{"l":"g2","v":2,"x":479,"y":758},{"l":"g2","v":3,"x":560,"y":979},{"l":"g2","v":4,"x":640,"y":1186},
{"l":"g3","v":0,"x":356,"y":253},{"l":"g3","v":1,"x":437,"y":507},{"l":"g3","v":2,"x":518,"y":743},{"l":"g3","v":3,"x":599,"y":955},{"l":"g3","v":4,"x":679,"y":1153},
{"l":"g4","v":0,"x":396,"y":257},{"l":"g4","v":1,"x":477,"y":502},{"l":"g4","v":2,"x":558,"y":729},{"l":"g4","v":3,"x":638,"y":933},{"l":"g4","v":4,"x":718,"y":1121},
{"l":"g5","v":0,"x":435,"y":263},{"l":"g5","v":1,"x":516,"y":500},{"l":"g5","v":2,"x":597,"y":720},{"l":"g5","v":3,"x":677,"y":916},{"l":"g5","v":4,"x":757,"y":1096},
{"l":"g6","v":0,"x":475,"y":270},{"l":"g6","v":1,"x":556,"y":500},{"l":"g6","v":2,"x":637,"y":711},{"l":"g6","v":3,"x":717,"y":900},{"l":"g6","v":4,"x":797,"y":1072},
{"l":"g7","v":0,"x":514,"y":281},{"l":"g7","v":1,"x":595,"y":503},{"l":"g7","v":2,"x":676,"y":705},{"l":"g7","v":3,"x":756,"y":885},{"l":"g7","v":4,"x":837,"y":1049},
{"l":"g8","v":0,"x":554,"y":295},{"l":"g8","v":1,"x":635,"y":508},{"l":"g8","v":2,"x":715,"y":701},{"l":"g8","v":3,"x":797,"y":871},{"l":"g8","v":4,"x":877,"y":1027},
{"l":"g9","v":0,"x":593,"y":312},{"l":"g9","v":1,"x":674,"y":515},{"l":"g9","v":2,"x":755,"y":699},{"l":"g9","v":3,"x":836,"y":860},{"l":"g9","v":4,"x":918,"y":1005},
{"l":"g10","v":0,"x":631,"y":329},{"l":"g10","v":1,"x":712,"y":525},{"l":"g10","v":2,"x":794,"y":699},{"l":"g10","v":3,"x":875,"y":851},{"l":"g10","v":4,"x":957,"y":987},
{"l":"g11","v":0,"x":670,"y":348},{"l":"g11","v":1,"x":751,"y":536},{"l":"g11","v":2,"x":834,"y":701},{"l":"g11","v":3,"x":915,"y":845},{"l":"g11","v":4,"x":997,"y":973},
{"l":"g12","v":0,"x":708,"y":369},{"l":"g12","v":1,"x":790,"y":549},{"l":"g12","v":2,"x":872,"y":705},{"l":"g12","v":3,"x":953,"y":842},{"l":"g12","v":4,"x":1037,"y":962},
{"l":"g13","v":0,"x":746,"y":391},{"l":"g13","v":1,"x":829,"y":564},{"l":"g13","v":2,"x":910,"y":711},{"l":"g13","v":3,"x":993,"y":840},{"l":"g13","v":4,"x":1077,"y":953},
{"l":"g14","v":0,"x":783,"y":411},{"l":"g14","v":1,"x":866,"y":578},{"l":"g14","v":2,"x":949,"y":720},{"l":"g14","v":3,"x":1033,"y":843},{"l":"g14","v":4,"x":1117,"y":948},
{"l":"g15","v":0,"x":820,"y":431},{"l":"g15","v":1,"x":904,"y":593},{"l":"g15","v":2,"x":987,"y":729},{"l":"g15","v":3,"x":1072,"y":846},{"l":"g15","v":4,"x":1157,"y":946},
{"l":"g16","v":0,"x":856,"y":460},{"l":"g16","v":1,"x":940,"y":616},{"l":"g16","v":2,"x":1025,"y":744},{"l":"g16","v":3,"x":1111,"y":855},{"l":"g16","v":4,"x":1197,"y":949},
{"l":"g17","v":0,"x":893,"y":492},{"l":"g17","v":1,"x":977,"y":640},{"l":"g17","v":2,"x":1065,"y":762},{"l":"g17","v":3,"x":1151,"y":867},{"l":"g17","v":4,"x":1236,"y":952},
{"l":"g18","v":0,"x":928,"y":531},{"l":"g18","v":1,"x":1013,"y":671},{"l":"g18","v":2,"x":1099,"y":783},{"l":"g18","v":3,"x":1187,"y":880},{"l":"g18","v":4,"x":1275,"y":957},
{"l":"g19","v":0,"x":963,"y":571},{"l":"g19","v":1,"x":1048,"y":703},{"l":"g19","v":2,"x":1136,"y":806},{"l":"g19","v":3,"x":1225,"y":894},{"l":"g19","v":4,"x":1314,"y":962}
],
"omegaC":[
{"l":"w0","v":0,"x":236,"y":261},{"l":"w0","v":1,"x":388,"y":256},{"l":"w0","v":2,"x":538,"y":288},{"l":"w0","v":3,"x":685,"y":356},{"l":"w0","v":4,"x":827,"y":435},{"l":"w0","v":5,"x":897,"y":495},{"l":"w0","v":6,"x":963,"y":571},
{"l":"w1","v":0,"x":254,"y":321},{"l":"w1","v":1,"x":405,"y":308},{"l":"w1","v":2,"x":555,"y":334},{"l":"w1","v":3,"x":702,"y":395},{"l":"w1","v":4,"x":845,"y":469},{"l":"w1","v":5,"x":915,"y":526},{"l":"w1","v":6,"x":981,"y":599},
{"l":"w2","v":0,"x":271,"y":379},{"l":"w2","v":1,"x":422,"y":359},{"l":"w2","v":2,"x":572,"y":379},{"l":"w2","v":3,"x":719,"y":433},{"l":"w2","v":4,"x":862,"y":503},{"l":"w2","v":5,"x":932,"y":557},{"l":"w2","v":6,"x":999,"y":626},
{"l":"w3","v":0,"x":288,"y":433},{"l":"w3","v":1,"x":439,"y":411},{"l":"w3","v":2,"x":589,"y":425},{"l":"w3","v":3,"x":737,"y":472},{"l":"w3","v":4,"x":880,"y":536},{"l":"w3","v":5,"x":950,"y":588},{"l":"w3","v":6,"x":1017,"y":654},
{"l":"w4","v":0,"x":305,"y":491},{"l":"w4","v":1,"x":456,"y":463},{"l":"w4","v":2,"x":606,"y":470},{"l":"w4","v":3,"x":754,"y":511},{"l":"w4","v":4,"x":898,"y":570},{"l":"w4","v":5,"x":968,"y":619},{"l":"w4","v":6,"x":1034,"y":682},
{"l":"w5","v":0,"x":324,"y":553},{"l":"w5","v":1,"x":473,"y":513},{"l":"w5","v":2,"x":623,"y":515},{"l":"w5","v":3,"x":771,"y":548},{"l":"w5","v":4,"x":915,"y":603},{"l":"w5","v":5,"x":985,"y":649},{"l":"w5","v":6,"x":1053,"y":708},
{"l":"w6","v":0,"x":341,"y":609},{"l":"w6","v":1,"x":491,"y":562},{"l":"w6","v":2,"x":640,"y":556},{"l":"w6","v":3,"x":788,"y":582},{"l":"w6","v":4,"x":933,"y":630},{"l":"w6","v":5,"x":1003,"y":674},{"l":"w6","v":6,"x":1071,"y":730},
{"l":"w7","v":0,"x":359,"y":665},{"l":"w7","v":1,"x":507,"y":610},{"l":"w7","v":2,"x":657,"y":598},{"l":"w7","v":3,"x":806,"y":616},{"l":"w7","v":4,"x":950,"y":659},{"l":"w7","v":5,"x":1021,"y":699},{"l":"w7","v":6,"x":1089,"y":751},
{"l":"w8","v":0,"x":375,"y":718},{"l":"w8","v":1,"x":524,"y":658},{"l":"w8","v":2,"x":673,"y":639},{"l":"w8","v":3,"x":823,"y":650},{"l":"w8","v":4,"x":968,"y":687},{"l":"w8","v":5,"x":1039,"y":725},{"l":"w8","v":6,"x":1108,"y":773},
{"l":"w9","v":0,"x":393,"y":774},{"l":"w9","v":1,"x":541,"y":706},{"l":"w9","v":2,"x":690,"y":681},{"l":"w9","v":3,"x":840,"y":684},{"l":"w9","v":4,"x":986,"y":716},{"l":"w9","v":5,"x":1058,"y":750},{"l":"w9","v":6,"x":1126,"y":795},
{"l":"w10","v":0,"x":410,"y":825},{"l":"w10","v":1,"x":559,"y":754},{"l":"w10","v":2,"x":708,"y":721},{"l":"w10","v":3,"x":858,"y":717},{"l":"w10","v":4,"x":1004,"y":744},{"l":"w10","v":5,"x":1076,"y":775},{"l":"w10","v":6,"x":1146,"y":816},
{"l":"w11","v":0,"x":428,"y":878},{"l":"w11","v":1,"x":576,"y":797},{"l":"w11","v":2,"x":725,"y":758},{"l":"w11","v":3,"x":875,"y":747},{"l":"w11","v":4,"x":1022,"y":768},{"l":"w11","v":5,"x":1095,"y":797},{"l":"w11","v":6,"x":1165,"y":834},
{"l":"w12","v":0,"x":444,"y":927},{"l":"w12","v":1,"x":592,"y":840},{"l":"w12","v":2,"x":743,"y":794},{"l":"w12","v":3,"x":892,"y":777},{"l":"w12","v":4,"x":1040,"y":793},{"l":"w12","v":5,"x":1113,"y":819},{"l":"w12","v":6,"x":1184,"y":853},
{"l":"w13","v":0,"x":462,"y":978},{"l":"w13","v":1,"x":609,"y":883},{"l":"w13","v":2,"x":760,"y":831},{"l":"w13","v":3,"x":909,"y":806},{"l":"w13","v":4,"x":1058,"y":816},{"l":"w13","v":5,"x":1131,"y":841},{"l":"w13","v":6,"x":1201,"y":871},
{"l":"w14","v":0,"x":478,"y":1024},{"l":"w14","v":1,"x":626,"y":926},{"l":"w14","v":2,"x":777,"y":867},{"l":"w14","v":3,"x":926,"y":836},{"l":"w14","v":4,"x":1076,"y":841},{"l":"w14","v":5,"x":1149,"y":863},{"l":"w14","v":6,"x":1221,"y":890},
{"l":"w15","v":0,"x":496,"y":1072},{"l":"w15","v":1,"x":643,"y":966},{"l":"w15","v":2,"x":794,"y":901},{"l":"w15","v":3,"x":943,"y":863},{"l":"w15","v":4,"x":1094,"y":863},{"l":"w15","v":5,"x":1167,"y":885},{"l":"w15","v":6,"x":1239,"y":905},
{"l":"w16","v":0,"x":514,"y":1118},{"l":"w16","v":1,"x":660,"y":1006},{"l":"w16","v":2,"x":811,"y":935},{"l":"w16","v":3,"x":961,"y":889},{"l":"w16","v":4,"x":1111,"y":884},{"l":"w16","v":5,"x":1185,"y":902},{"l":"w16","v":6,"x":1258,"y":920},
{"l":"w17","v":0,"x":532,"y":1164},{"l":"w17","v":1,"x":676,"y":1046},{"l":"w17","v":2,"x":827,"y":968},{"l":"w17","v":3,"x":978,"y":915},{"l":"w17","v":4,"x":1129,"y":905},{"l":"w17","v":5,"x":1204,"y":918},{"l":"w17","v":6,"x":1276,"y":934},
{"l":"w18","v":0,"x":550,"y":1210},{"l":"w18","v":1,"x":693,"y":1086},{"l":"w18","v":2,"x":844,"y":1002},{"l":"w18","v":3,"x":995,"y":941},{"l":"w18","v":4,"x":1147,"y":925},{"l":"w18","v":5,"x":1222,"y":935},{"l":"w18","v":6,"x":1295,"y":948},
{"l":"w19","v":0,"x":569,"y":1259},{"l":"w19","v":1,"x":710,"y":1126},{"l":"w19","v":2,"x":861,"y":1035},{"l":"w19","v":3,"x":1013,"y":967},{"l":"w19","v":4,"x":1165,"y":946},{"l":"w19","v":5,"x":1240,"y":952},{"l":"w19","v":6,"x":1314,"y":962}
],
"gammaD":[
{"l":"g0","v":0,"x":1922,"y":451},{"l":"g0","v":1,"x":2078,"y":796},{"l":"g0","v":2,"x":2233,"y":1163},
{"l":"g1","v":0,"x":1958,"y":462},{"l":"g1","v":1,"x":2115,"y":795},{"l":"g1","v":2,"x":2271,"y":1149},
{"l":"g2","v":0,"x":1994,"y":473},{"l":"g2","v":1,"x":2152,"y":794},{"l":"g2","v":2,"x":2309,"y":1135},
{"l":"g3","v":0,"x":2030,"y":484},{"l":"g3","v":1,"x":2189,"y":793},{"l":"g3","v":2,"x":2347,"y":1121},
{"l":"g4","v":0,"x":2066,"y":495},{"l":"g4","v":1,"x":2226,"y":793},{"l":"g4","v":2,"x":2385,"y":1107},
{"l":"g5","v":0,"x":2103,"y":505},{"l":"g5","v":1,"x":2263,"y":791},{"l":"g5","v":2,"x":2423,"y":1092},
{"l":"g6","v":0,"x":2139,"y":512},{"l":"g6","v":1,"x":2300,"y":786},{"l":"g6","v":2,"x":2461,"y":1074},
{"l":"g7","v":0,"x":2175,"y":519},{"l":"g7","v":1,"x":2337,"y":782},{"l":"g7","v":2,"x":2500,"y":1056},
{"l":"g8","v":0,"x":2211,"y":525},{"l":"g8","v":1,"x":2374,"y":777},{"l":"g8","v":2,"x":2538,"y":1038},
{"l":"g9","v":0,"x":2247,"y":532},{"l":"g9","v":1,"x":2411,"y":772},{"l":"g9","v":2,"x":2576,"y":1020},
{"l":"g10","v":0,"x":2285,"y":538},{"l":"g10","v":1,"x":2450,"y":765},{"l":"g10","v":2,"x":2616,"y":999},
{"l":"g11","v":0,"x":2321,"y":541},{"l":"g11","v":1,"x":2487,"y":756},{"l":"g11","v":2,"x":2654,"y":976},
{"l":"g12","v":0,"x":2357,"y":544},{"l":"g12","v":1,"x":2524,"y":746},{"l":"g12","v":2,"x":2692,"y":953},
{"l":"g13","v":0,"x":2393,"y":546},{"l":"g13","v":1,"x":2561,"y":737},{"l":"g13","v":2,"x":2730,"y":930},
{"l":"g14","v":0,"x":2428,"y":549},{"l":"g14","v":1,"x":2598,"y":727},{"l":"g14","v":2,"x":2768,"y":908},
{"l":"g15","v":0,"x":2464,"y":549},{"l":"g15","v":1,"x":2635,"y":716},{"l":"g15","v":2,"x":2806,"y":883},
{"l":"g16","v":0,"x":2501,"y":549},{"l":"g16","v":1,"x":2672,"y":704},{"l":"g16","v":2,"x":2844,"y":858},
{"l":"g17","v":0,"x":2537,"y":548},{"l":"g17","v":1,"x":2709,"y":692},{"l":"g17","v":2,"x":2881,"y":833},
{"l":"g18","v":0,"x":2573,"y":547},{"l":"g18","v":1,"x":2746,"y":680},{"l":"g18","v":2,"x":2920,"y":808},
{"l":"g19","v":0,"x":2609,"y":546},{"l":"g19","v":1,"x":2783,"y":668},{"l":"g19","v":2,"x":2958,"y":783}
],
"omegaD":[
{"l":"w0","v":0,"x":1922,"y":451},{"l":"w0","v":1,"x":2094,"y":503},{"l":"w0","v":2,"x":2266,"y":536},{"l":"w0","v":3,"x":2437,"y":550},{"l":"w0","v":4,"x":2609,"y":546},
{"l":"w1","v":0,"x":1940,"y":490},{"l":"w1","v":1,"x":2111,"y":533},{"l":"w1","v":2,"x":2283,"y":561},{"l":"w1","v":3,"x":2455,"y":568},{"l":"w1","v":4,"x":2627,"y":559},
{"l":"w2","v":0,"x":1955,"y":523},{"l":"w2","v":1,"x":2128,"y":564},{"l":"w2","v":2,"x":2300,"y":585},{"l":"w2","v":3,"x":2473,"y":587},{"l":"w2","v":4,"x":2646,"y":571},
{"l":"w3","v":0,"x":1976,"y":561},{"l":"w3","v":1,"x":2144,"y":594},{"l":"w3","v":2,"x":2318,"y":610},{"l":"w3","v":3,"x":2491,"y":605},{"l":"w3","v":4,"x":2664,"y":584},
{"l":"w4","v":0,"x":1992,"y":597},{"l":"w4","v":1,"x":2161,"y":625},{"l":"w4","v":2,"x":2335,"y":634},{"l":"w4","v":3,"x":2508,"y":623},{"l":"w4","v":4,"x":2683,"y":596},
{"l":"w5","v":0,"x":2006,"y":635},{"l":"w5","v":1,"x":2178,"y":655},{"l":"w5","v":2,"x":2352,"y":659},{"l":"w5","v":3,"x":2526,"y":641},{"l":"w5","v":4,"x":2701,"y":609},
{"l":"w6","v":0,"x":2022,"y":668},{"l":"w6","v":1,"x":2195,"y":685},{"l":"w6","v":2,"x":2370,"y":683},{"l":"w6","v":3,"x":2544,"y":660},{"l":"w6","v":4,"x":2719,"y":622},
{"l":"w7","v":0,"x":2037,"y":706},{"l":"w7","v":1,"x":2212,"y":716},{"l":"w7","v":2,"x":2387,"y":708},{"l":"w7","v":3,"x":2562,"y":678},{"l":"w7","v":4,"x":2737,"y":635},
{"l":"w8","v":0,"x":2051,"y":742},{"l":"w8","v":1,"x":2228,"y":746},{"l":"w8","v":2,"x":2404,"y":732},{"l":"w8","v":3,"x":2580,"y":697},{"l":"w8","v":4,"x":2755,"y":648},
{"l":"w9","v":0,"x":2065,"y":778},{"l":"w9","v":1,"x":2245,"y":776},{"l":"w9","v":2,"x":2421,"y":757},{"l":"w9","v":3,"x":2598,"y":715},{"l":"w9","v":4,"x":2774,"y":661},
{"l":"w10","v":0,"x":2083,"y":815},{"l":"w10","v":1,"x":2263,"y":808},{"l":"w10","v":2,"x":2440,"y":783},{"l":"w10","v":3,"x":2616,"y":735},{"l":"w10","v":4,"x":2793,"y":674},
{"l":"w11","v":0,"x":2098,"y":853},{"l":"w11","v":1,"x":2280,"y":840},{"l":"w11","v":2,"x":2457,"y":808},{"l":"w11","v":3,"x":2634,"y":753},{"l":"w11","v":4,"x":2811,"y":686},
{"l":"w12","v":0,"x":2116,"y":891},{"l":"w12","v":1,"x":2296,"y":871},{"l":"w12","v":2,"x":2474,"y":833},{"l":"w12","v":3,"x":2652,"y":771},{"l":"w12","v":4,"x":2829,"y":698},
{"l":"w13","v":0,"x":2134,"y":927},{"l":"w13","v":1,"x":2313,"y":902},{"l":"w13","v":2,"x":2491,"y":857},{"l":"w13","v":3,"x":2669,"y":790},{"l":"w13","v":4,"x":2847,"y":710},
{"l":"w14","v":0,"x":2149,"y":966},{"l":"w14","v":1,"x":2330,"y":933},{"l":"w14","v":2,"x":2509,"y":882},{"l":"w14","v":3,"x":2687,"y":808},{"l":"w14","v":4,"x":2866,"y":722},
{"l":"w15","v":0,"x":2167,"y":1003},{"l":"w15","v":1,"x":2347,"y":966},{"l":"w15","v":2,"x":2526,"y":908},{"l":"w15","v":3,"x":2705,"y":826},{"l":"w15","v":4,"x":2884,"y":734},
{"l":"w16","v":0,"x":2185,"y":1042},{"l":"w16","v":1,"x":2364,"y":998},{"l":"w16","v":2,"x":2544,"y":934},{"l":"w16","v":3,"x":2723,"y":845},{"l":"w16","v":4,"x":2903,"y":746},
{"l":"w17","v":0,"x":2200,"y":1080},{"l":"w17","v":1,"x":2380,"y":1031},{"l":"w17","v":2,"x":2561,"y":959},{"l":"w17","v":3,"x":2741,"y":864},{"l":"w17","v":4,"x":2921,"y":759},
{"l":"w18","v":0,"x":2216,"y":1120},{"l":"w18","v":1,"x":2397,"y":1063},{"l":"w18","v":2,"x":2579,"y":985},{"l":"w18","v":3,"x":2759,"y":883},{"l":"w18","v":4,"x":2940,"y":771},
{"l":"w19","v":0,"x":2233,"y":1163},{"l":"w19","v":1,"x":2414,"y":1096},{"l":"w19","v":2,"x":2596,"y":1011},{"l":"w19","v":3,"x":2777,"y":902},{"l":"w19","v":4,"x":2958,"y":783}
],
"swatches":[
{"k":"> 58","x":1360,"x2":1440,"y":422,"y2":471},{"k":"< 52","x":1360,"x2":1440,"y":483,"y2":532},{"k":"< 42","x":1360,"x2":1440,"y":542,"y2":591},{"k":"< 32","x":1360,"x2":1440,"y":604,"y2":653},{"k":"< 22","x":1360,"x2":1440,"y":663,"y2":711},{"k":"< 12","x":1360,"x2":1440,"y":721,"y2":772},{"k":"< 2","x":1360,"x2":1440,"y":784,"y2":831},
{"k":"> 58","x":2990,"x2":3070,"y":405,"y2":454},{"k":"< 52","x":2990,"x2":3070,"y":463,"y2":514},{"k":"< 42","x":2990,"x2":3070,"y":524,"y2":573},{"k":"< 32","x":2990,"x2":3070,"y":585,"y2":634},{"k":"< 22","x":2990,"x2":3070,"y":643,"y2":691},{"k":"< 12","x":2990,"x2":3070,"y":704,"y2":752},{"k":"< 2","x":2990,"x2":3070,"y":762,"y2":813}
],
"legC":[{"t":"> 58","x":1463,"y":438},{"t":"< 52","x":1463,"y":500},{"t":"< 42","x":1463,"y":558},{"t":"< 32","x":1463,"y":620},{"t":"< 22","x":1463,"y":678},{"t":"< 12","x":1463,"y":739},{"t":"< 2","x":1463,"y":799}],
"legD":[{"t":"> 58","x":3089,"y":427},{"t":"< 52","x":3089,"y":488},{"t":"< 42","x":3089,"y":548},{"t":"< 32","x":3089,"y":606},{"t":"< 22","x":3089,"y":667},{"t":"< 12","x":3089,"y":726},{"t":"< 2","x":3089,"y":786}],
"zC":[{"t":"60","x":171,"y":241},{"t":"50","x":178,"y":357},{"t":"40","x":183,"y":472},{"t":"30","x":189,"y":584},{"t":"20","x":196,"y":690},{"t":"10","x":201,"y":805}],
"zD":[{"t":"60","x":1844,"y":227},{"t":"50","x":1853,"y":342},{"t":"40","x":1857,"y":454},{"t":"30","x":1864,"y":566},{"t":"20","x":1866,"y":676},{"t":"10","x":1876,"y":779}],
"floorC":[{"t":"45","x":210,"y":908},{"t":"40","x":250,"y":966},{"t":"35","x":291,"y":1024},{"t":"30","x":332,"y":1085},{"t":"25","x":375,"y":1146},{"t":"20","x":421,"y":1210},{"t":"15","x":467,"y":1274},{"t":"10","x":514,"y":1340},{"t":"8","x":599,"y":1360},{"t":"12","x":792,"y":1304},{"t":"16","x":978,"y":1252},{"t":"20","x":1160,"y":1203},{"t":"24","x":1338,"y":1152}],
"floorD":[{"t":"45","x":1882,"y":886},{"t":"40","x":1920,"y":941},{"t":"35","x":1955,"y":999},{"t":"30","x":1997,"y":1056},{"t":"25","x":2039,"y":1118},{"t":"20","x":2081,"y":1180},{"t":"15","x":2127,"y":1242},{"t":"10","x":2174,"y":1308},{"t":"8","x":2263,"y":1331},{"t":"12","x":2450,"y":1275},{"t":"16","x":2631,"y":1225},{"t":"20","x":2804,"y":1177},{"t":"24","x":2978,"y":1128}],
"capReg":[{"t":"(","x":793,"y":1497},{"t":")","x":847,"y":1497},{"t":"(","x":2422,"y":1497},{"t":")","x":2484,"y":1497}],
"capBold":[{"t":"c","x":820,"y":1497},{"t":"d","x":2453,"y":1497}]
},
"encoding":{"x":{"field":"x","type":"quantitative","scale":{"domain":[0,3238],"nice":false,"zero":false},"axis":null},"y":{"field":"y","type":"quantitative","scale":{"domain":[0,1571],"reverse":true,"nice":false,"zero":false},"axis":null}},
"layer":[
{"data":{"name":"walls"},"mark":{"type":"rule","stroke":"#e6e6e6","strokeWidth":3},"encoding":{"x2":{"field":"x2"},"y2":{"field":"y2"}}},
{"data":{"name":"axes"},"mark":{"type":"rule","stroke":"#2a2a2a","strokeWidth":2.6},"encoding":{"x2":{"field":"x2"},"y2":{"field":"y2"}}},
{"data":{"name":"bands"},"mark":{"type":"line","filled":true,"strokeWidth":0,"opacity":1},"encoding":{"detail":{"field":"b"},"order":{"field":"i","type":"quantitative"},"color":{"field":"k","type":"nominal","legend":null,"scale":{"domain":["z2","z4","z6","z8","z12","z20","z23","z25","z27","z29","z32","z35","z38","z41","z44","z48","z52","z58","> 58","< 52","< 42","< 32","< 22","< 12","< 2"],"range":["#007028","#008c10","#00a810","#00c000","#00d800","#00ee00","#60f000","#a0f000","#d0ff00","#f0f800","#ffe000","#ffb800","#ff8000","#ff4800","#ff0000","#e00000","#b80000","#900000","#7c0000","#c00000","#ff1000","#ffe000","#00ff10","#00a414","#005c40"]}}}},
{"data":{"name":"gammaC"},"mark":{"type":"line","interpolate":"catmull-rom","stroke":"#000000","strokeOpacity":0.78,"strokeWidth":3},"encoding":{"detail":{"field":"l"},"order":{"field":"v","type":"quantitative"}}},
{"data":{"name":"omegaC"},"mark":{"type":"line","interpolate":"catmull-rom","stroke":"#000000","strokeOpacity":0.78,"strokeWidth":3},"encoding":{"detail":{"field":"l"},"order":{"field":"v","type":"quantitative"}}},
{"data":{"name":"gammaD"},"mark":{"type":"line","interpolate":"catmull-rom","stroke":"#000000","strokeOpacity":0.75,"strokeWidth":2.6},"encoding":{"detail":{"field":"l"},"order":{"field":"v","type":"quantitative"}}},
{"data":{"name":"omegaD"},"mark":{"type":"line","interpolate":"catmull-rom","stroke":"#000000","strokeOpacity":0.75,"strokeWidth":2.6},"encoding":{"detail":{"field":"l"},"order":{"field":"v","type":"quantitative"}}},
{"data":{"name":"swatches"},"mark":{"type":"rect","stroke":"#222222","strokeWidth":2.5},"encoding":{"x2":{"field":"x2"},"y2":{"field":"y2"},"color":{"field":"k","type":"nominal","legend":null,"scale":{"domain":["z2","z4","z6","z8","z12","z20","z23","z25","z27","z29","z32","z35","z38","z41","z44","z48","z52","z58","> 58","< 52","< 42","< 32","< 22","< 12","< 2"],"range":["#007028","#008c10","#00a810","#00c000","#00d800","#00ee00","#60f000","#a0f000","#d0ff00","#f0f800","#ffe000","#ffb800","#ff8000","#ff4800","#ff0000","#e00000","#b80000","#900000","#7c0000","#c00000","#ff1000","#ffe000","#00ff10","#00a414","#005c40"]}}}},
{"data":{"name":"legC"},"mark":{"type":"text","font":"Liberation Sans","fontSize":41,"align":"left","baseline":"middle","fill":"#222222"},"encoding":{"text":{"field":"t"}}},
{"data":{"name":"legD"},"mark":{"type":"text","font":"Liberation Sans","fontSize":48,"align":"left","baseline":"middle","fill":"#222222"},"encoding":{"text":{"field":"t"}}},
{"data":{"name":"zC"},"mark":{"type":"text","font":"Liberation Sans","fontSize":50,"angle":356,"align":"center","baseline":"middle","fill":"#222222"},"encoding":{"text":{"field":"t"}}},
{"data":{"name":"zD"},"mark":{"type":"text","font":"Liberation Sans","fontSize":58,"angle":358,"align":"center","baseline":"middle","fill":"#222222"},"encoding":{"text":{"field":"t"}}},
{"data":{"name":"floorC"},"mark":{"type":"text","font":"Liberation Sans","fontSize":44,"angle":340,"align":"center","baseline":"middle","fill":"#222222"},"encoding":{"text":{"field":"t"}}},
{"data":{"name":"floorD"},"mark":{"type":"text","font":"Liberation Sans","fontSize":52,"angle":340,"align":"center","baseline":"middle","fill":"#222222"},"encoding":{"text":{"field":"t"}}},
{"data":{"values":[{"t":"ho [µm]","x":77,"y":600}]},"mark":{"type":"text","font":"Liberation Sans","fontSize":52,"angle":88,"align":"center","baseline":"middle","fill":"#222222"},"encoding":{"text":{"field":"t"}}},
{"data":{"values":[{"t":"ho [µm]","x":1749,"y":592}]},"mark":{"type":"text","font":"Liberation Sans","fontSize":60,"angle":88,"align":"center","baseline":"middle","fill":"#222222"},"encoding":{"text":{"field":"t"}}},
{"data":{"values":[{"t":"ω [°]","x":250,"y":1162}]},"mark":{"type":"text","font":"Liberation Sans","fontSize":54,"angle":40,"align":"center","baseline":"middle","fill":"#222222"},"encoding":{"text":{"field":"t"}}},
{"data":{"values":[{"t":"ω [°]","x":1897,"y":1125}]},"mark":{"type":"text","font":"Liberation Sans","fontSize":58,"angle":40,"align":"center","baseline":"middle","fill":"#222222"},"encoding":{"text":{"field":"t"}}},
{"data":{"values":[{"t":"γ [°]","x":1035,"y":1322}]},"mark":{"type":"text","font":"Liberation Sans","fontSize":54,"angle":340,"align":"center","baseline":"middle","fill":"#222222"},"encoding":{"text":{"field":"t"}}},
{"data":{"values":[{"t":"γ [°]","x":2694,"y":1303}]},"mark":{"type":"text","font":"Liberation Sans","fontSize":62,"angle":340,"align":"center","baseline":"middle","fill":"#222222"},"encoding":{"text":{"field":"t"}}},
{"data":{"name":"capReg"},"mark":{"type":"text","font":"Liberation Serif","fontSize":70,"align":"center","baseline":"alphabetic","fill":"#000000"},"encoding":{"text":{"field":"t"}}},
{"data":{"name":"capBold"},"mark":{"type":"text","font":"Liberation Serif","fontWeight":"bold","fontSize":70,"align":"center","baseline":"alphabetic","fill":"#000000"},"encoding":{"text":{"field":"t"}}}
]}
